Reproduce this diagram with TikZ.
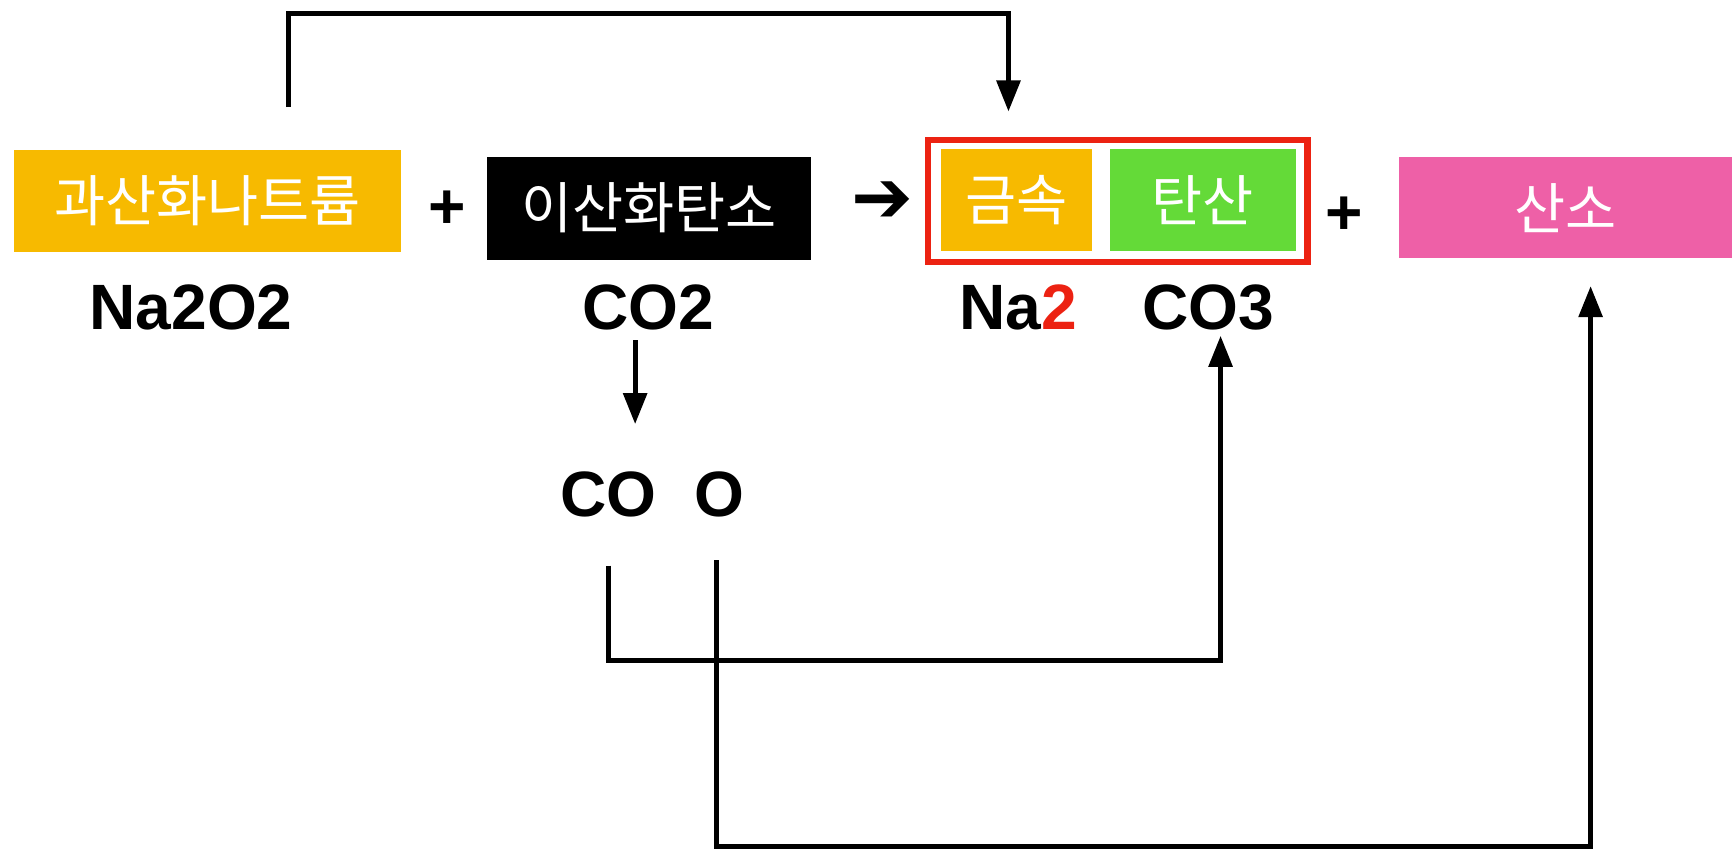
\documentclass[tikz,border=0pt]{standalone}
\usepackage{fontspec}
\setmainfont{Liberation Sans}
\newfontfamily\kr{Noto Sans CJK KR}
\newfontfamily\sym{DejaVu Sans}
\usetikzlibrary{arrows.meta}
\definecolor{cyellow}{RGB}{247,186,0}
\definecolor{cgreen}{RGB}{100,218,56}
\definecolor{cpink}{RGB}{238,96,167}
\definecolor{cred}{RGB}{236,34,18}
\tikzset{
  kbox/.style={inner sep=0pt, text=white, font=\kr\fontsize{14.3pt}{16pt}\selectfont},
  formula/.style={anchor=base, inner sep=0pt, font=\bfseries\fontsize{16.5pt}{18pt}\selectfont},
  plus/.style={inner sep=0pt, font=\bfseries\fontsize{16.5pt}{18pt}\selectfont},
  conn/.style={line width=1.3pt, line join=miter},
  arr/.style={conn, -{Triangle[length=8pt,width=6pt]}}
}
\begin{document}
\begin{tikzpicture}[x=0.01cm, y=-0.01cm]
\useasboundingbox (0,0) rectangle (1568,768);
% boxes
\node[kbox, fill=cyellow, minimum width=3.50cm, minimum height=0.92cm] (nap) at (188,182) {과산화나트륨};
\node[kbox, fill=black, minimum width=2.93cm, minimum height=0.93cm] (co2box) at (587.5,188.5) {이산화탄소};
\node[draw=cred, line width=1.6pt, minimum width=3.43cm, minimum height=1.11cm, inner sep=0pt] (red) at (1012,182) {};
\node[kbox, fill=cyellow, minimum width=1.37cm, minimum height=0.92cm] (metal) at (920.5,181) {금속};
\node[kbox, fill=cgreen, minimum width=1.68cm, minimum height=0.92cm] (carb) at (1089,181) {탄산};
\node[kbox, fill=cpink, minimum width=3.01cm, minimum height=0.92cm] (oxy) at (1417.5,188) {산소};
% operators
\node[plus] (p1) at (405,190) {+};
\node[plus] (p2) at (1217,195) {+};
\node[inner sep=0pt, font=\sym\bfseries\fontsize{19pt}{20pt}\selectfont] (yield) at (799,183) {➔};
% formulas
\node[formula] (f1) at (173,298) {Na2O2};
\node[formula] (f2) at (587,298) {CO2};
\node[formula] (f3) at (922,298) {Na\textcolor{cred}{2}};
\node[formula] (f4) at (1094,298) {CO3};
\node[formula] (fco) at (551,468) {CO};
\node[formula] (fo) at (651,468) {O};
% connector ends
\coordinate (ts) at (261,97);
\coordinate (tt) at (913,101);
\coordinate (ds) at (575,308);
\coordinate (dt) at (575,384);
\coordinate (cs) at (551,512);
\coordinate (ct) at (1105,304);
\coordinate (os) at (649,507);
\coordinate (ot) at (1440,259);
% connectors
\draw[arr] (ts) -- ++(0,-85) -| (tt);
\draw[arr] (ds) -- (dt);
\draw[arr] (cs) -- ++(0,86) -| (ct);
\draw[arr] (os) -- ++(0,259) -| (ot);
\end{tikzpicture}
\end{document}
